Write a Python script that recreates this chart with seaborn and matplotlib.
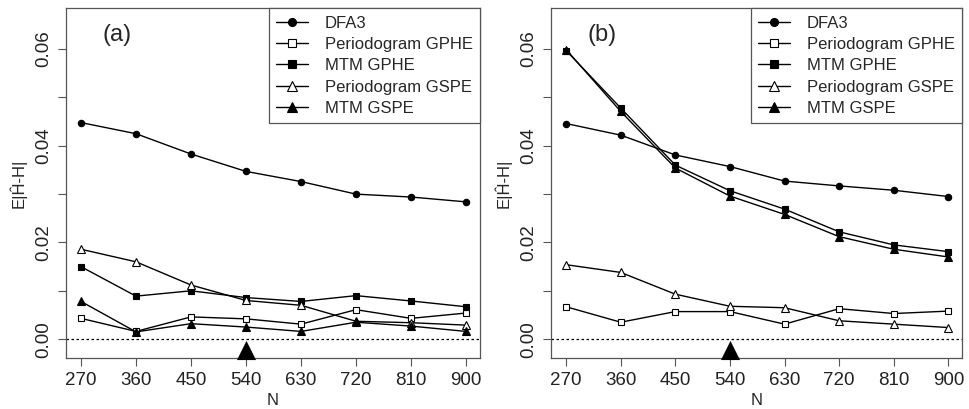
import matplotlib
matplotlib.use("Agg")
import matplotlib.pyplot as plt
import seaborn as sns
import numpy as np

# ---- data ----
N = [270, 360, 450, 540, 630, 720, 810, 900]
series_labels = ["DFA3", "Periodogram GPHE", "MTM GPHE", "Periodogram GSPE", "MTM GSPE"]

dfa3_a = [0.0448, 0.0425, 0.0383, 0.0347, 0.0326, 0.0300, 0.0294, 0.0284]
pgphe_a = [0.0043, 0.0016, 0.0046, 0.0042, 0.0031, 0.0061, 0.0043, 0.0054]
mtmgphe_a = [0.0150, 0.0089, 0.0100, 0.0086, 0.0078, 0.0090, 0.0079, 0.0067]
pgspe_a = [0.0186, 0.0160, 0.0112, 0.0080, 0.0070, 0.0037, 0.0034, 0.0029]
mtmgspe_a = [0.0078, 0.0015, 0.0032, 0.0025, 0.0016, 0.0035, 0.0027, 0.0016]

dfa3_b = [0.0446, 0.0422, 0.0381, 0.0357, 0.0327, 0.0317, 0.0308, 0.0295]
pgphe_b = [0.0067, 0.0035, 0.0057, 0.0057, 0.0031, 0.0063, 0.0053, 0.0058]
mtmgphe_b = [0.0597, 0.0478, 0.0360, 0.0307, 0.0269, 0.0222, 0.0195, 0.0181]
pgspe_b = [0.0154, 0.0138, 0.0093, 0.0068, 0.0065, 0.0038, 0.0031, 0.0024]
mtmgspe_b = [0.0599, 0.0471, 0.0354, 0.0296, 0.0258, 0.0212, 0.0186, 0.0170]

pointer_n = [540]
pointer_y = [-0.0023]

yticks = [0.00, 0.01, 0.02, 0.03, 0.04, 0.05, 0.06]
ytick_labels = ["0.00", "", "0.02", "", "0.04", "", "0.06"]
panel_labels = ["(a)", "(b)"]

# ---- style ----
sns.set_style("ticks")
plt.rcParams["font.family"] = ["Liberation Sans", "DejaVu Sans"]

styles = [
    dict(marker="o", markerfacecolor="black", markersize=4.6),
    dict(marker="s", markerfacecolor="white", markersize=4.2),
    dict(marker="s", markerfacecolor="black", markersize=4.6),
    dict(marker="^", markerfacecolor="white", markersize=6),
    dict(marker="^", markerfacecolor="black", markersize=5.5),
]

fig = plt.figure(figsize=(9.69, 4.09), dpi=100)
ax_a = fig.add_axes([0.0678, 0.1247, 0.4276, 0.8557])
ax_b = fig.add_axes([0.5686, 0.1247, 0.4245, 0.8557])

panels = [
    (ax_a, [dfa3_a, pgphe_a, mtmgphe_a, pgspe_a, mtmgspe_a]),
    (ax_b, [dfa3_b, pgphe_b, mtmgphe_b, pgspe_b, mtmgspe_b]),
]

spine_col = "#555555"
for (ax, data), plab in zip(panels, panel_labels):
    ax.axhline(0, color="black", linestyle=(0, (2, 2)), linewidth=0.9, zorder=1)
    for vals, lab, st in zip(data, series_labels, styles):
        sns.lineplot(x=N, y=vals, ax=ax, color="black", linewidth=1.0,
                     markeredgecolor="black", markeredgewidth=0.8,
                     label=lab, **st)
    sns.scatterplot(x=pointer_n, y=pointer_y, ax=ax, marker="^", color="black",
                    s=190, edgecolor="black", linewidth=0, clip_on=False, zorder=5)
    ax.set_xlim(245, 923)
    ax.set_ylim(-0.0039, 0.0685)
    ax.set_xticks(N)
    ax.set_xticklabels([str(n) for n in N], fontsize=13.5)
    ax.set_yticks(yticks)
    ax.set_yticklabels(ytick_labels, fontsize=13.5, rotation=90, va="center")
    ax.tick_params(axis="both", direction="out", length=6, width=0.8,
                   color=spine_col, labelcolor="#222222", pad=4)
    for sp in ax.spines.values():
        sp.set_visible(True)
        sp.set_color(spine_col)
        sp.set_linewidth(0.9)
    ax.set_xlabel("N", fontsize=12, labelpad=3)
    ax.set_ylabel("E|Ĥ-H|", fontsize=12, labelpad=6)
    ax.text(0.09, 0.955, plab, transform=ax.transAxes, fontsize=17,
            ha="left", va="top")
    leg = ax.legend(loc="upper right", borderaxespad=0, frameon=True,
                    fancybox=False, edgecolor=spine_col, fontsize=12,
                    handlelength=1.9, handletextpad=1.0, labelspacing=0.38,
                    borderpad=0.45, framealpha=1, markerscale=1.25)
    leg.get_frame().set_linewidth(0.9)

fig.savefig("out.png", dpi=100)
